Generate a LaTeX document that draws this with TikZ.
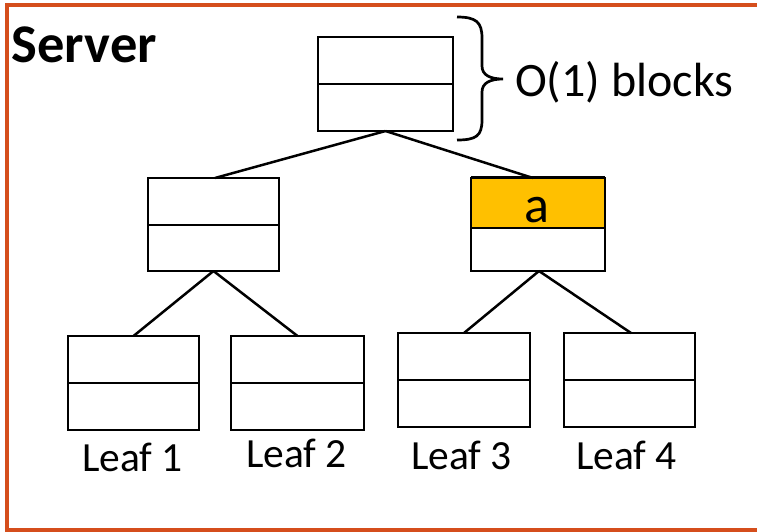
\documentclass[tikz,border=0pt]{standalone}
\usepackage{fontspec}
\setmainfont{Carlito}
\definecolor{frameorange}{RGB}{213,78,28}
\definecolor{blockgold}{RGB}{255,192,0}
\begin{document}
\begin{tikzpicture}[x=1pt,y=-1pt,
  half/.style={draw=black, line width=2.7pt, inner sep=0pt, outer sep=0pt},
  link/.style={draw=black, line width=2.5pt},
  leaflabel/.style={anchor=base, inner sep=0pt, font=\fontsize{41.5}{48}\selectfont}]
\useasboundingbox (0,0) rectangle (757,531);

% server frame, open on the right
\draw[frameorange, line width=4pt, line join=miter]
  (757,5.3) -- (7,5.3) -- (7,529.5) -- (757,529.5);
\node[anchor=base west, inner sep=0pt, font=\fontsize{54.5}{60}\selectfont\bfseries]
  (server) at (11.5,62) {Server};

% root block (two halves)
\node[half, minimum width=135pt, minimum height=47pt] (roott) at (385.5,60.5) {};
\node[half, minimum width=135pt, minimum height=47pt] (rootb) at (385.5,107.5) {};

% inner blocks
\node[half, minimum width=131pt, minimum height=47pt] (lt) at (213.5,201.5) {};
\node[half, minimum width=131pt, minimum height=46pt] (lb) at (213.5,248) {};
\node[half, fill=blockgold, minimum width=134pt, minimum height=50pt] (rt) at (538,203) {};
\node[half, minimum width=134pt, minimum height=43pt] (rb) at (538,249.5) {};
\draw[line width=3.6pt] ([yshift=0.6pt]rt.north west) -- ([yshift=0.6pt]rt.north east);
\node[anchor=base, inner sep=0pt, font=\fontsize{52}{60}\selectfont] (alabel) at (537,222) {a};

% leaf blocks
\node[half, minimum width=131pt, minimum height=47pt] (l1t) at (133.5,359.5) {};
\node[half, minimum width=131pt, minimum height=47pt] (l1b) at (133.5,406.5) {};
\node[half, minimum width=133pt, minimum height=47pt] (l2t) at (297.5,359.5) {};
\node[half, minimum width=133pt, minimum height=47pt] (l2b) at (297.5,406.5) {};
\node[half, minimum width=132pt, minimum height=47pt] (l3t) at (464,356.5) {};
\node[half, minimum width=132pt, minimum height=47pt] (l3b) at (464,403.5) {};
\node[half, minimum width=131pt, minimum height=47pt] (l4t) at (629.5,356.5) {};
\node[half, minimum width=131pt, minimum height=47pt] (l4b) at (629.5,403.5) {};

% tree edges
\draw[link] (rootb.south) -- ([xshift=1.5pt]lt.north);
\draw[link] (rootb.south) -- ([xshift=-5pt]rt.north);
\draw[link] (lb.south) -- (l1t.north);
\draw[link] (lb.south) -- (l2t.north);
\draw[link] ([xshift=1pt]rb.south) -- (l3t.north);
\draw[link] ([xshift=1pt]rb.south) -- ([xshift=1.5pt]l4t.north);

% leaf labels
\node[leaflabel] (lab1) at (132.5,471) {Leaf 1};
\node[leaflabel] (lab2) at (296.5,467) {Leaf 2};
\node[leaflabel] (lab3) at (461.5,469) {Leaf 3};
\node[leaflabel] (lab4) at (626.5,469) {Leaf 4};

% brace marking the root block
\draw[line width=2.7pt] (457,17) .. controls (476,17) and (482,22) .. (482,38)
  -- (482,66) .. controls (482,75) and (490,79) .. (503,79)
  .. controls (490,79) and (482,83) .. (482,92)
  -- (482,120) .. controls (482,136) and (476,140) .. (457,140);
\node[anchor=base west, inner sep=0pt, font=\fontsize{48}{56}\selectfont]
  (blocks) at (515,96.5) {O(1) blocks};
\end{tikzpicture}
\end{document}
